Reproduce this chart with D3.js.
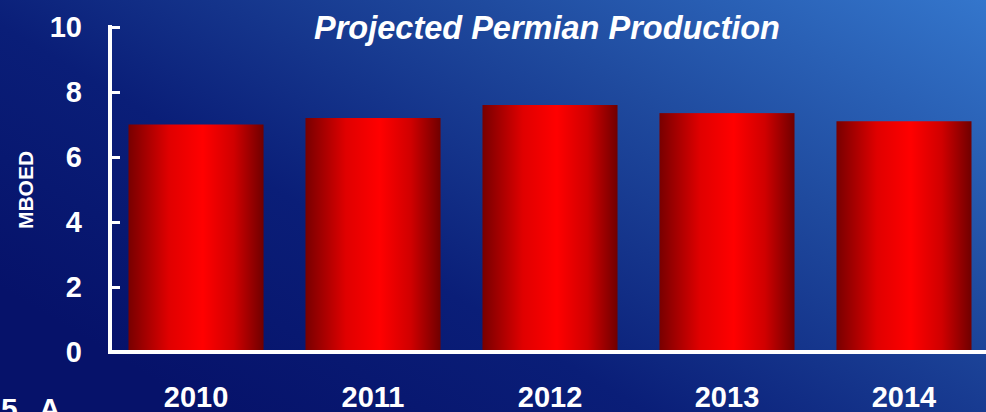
<!DOCTYPE html>
<html><head><meta charset="utf-8">
<script src="https://cdn.jsdelivr.net/npm/d3@7"></script>
<style>html,body{margin:0;padding:0;overflow:hidden;background:#0a1a6e}</style>
</head><body>
<svg id="chart" width="986" height="412"></svg>
<script>
const categories = ["2010", "2011", "2012", "2013", "2014"];
const values = [7.0, 7.2, 7.6, 7.35, 7.1];
const yTicks = [0, 2, 4, 6, 8, 10];
const title = "Projected Permian Production";
const yLabel = "MBOED";
const cornerText = "5 A";

const svg = d3.select("#chart");
const W = 986, H = 412;
const defs = svg.append("defs");

const bg = defs.append("linearGradient").attr("id","bg")
  .attr("x1","0").attr("y1","0.7").attr("x2","1").attr("y2","0");
bg.append("stop").attr("offset","0").attr("stop-color","#06126a");
bg.append("stop").attr("offset","0.3").attr("stop-color","#0a1e78");
bg.append("stop").attr("offset","0.65").attr("stop-color","#1f4a9e");
bg.append("stop").attr("offset","1").attr("stop-color","#3476cc");

const bar = defs.append("linearGradient").attr("id","bar")
  .attr("x1","0").attr("y1","0").attr("x2","1").attr("y2","0");
bar.append("stop").attr("offset","0").attr("stop-color","#780000");
bar.append("stop").attr("offset","0.3").attr("stop-color","#e00000");
bar.append("stop").attr("offset","0.55").attr("stop-color","#ff0000");
bar.append("stop").attr("offset","0.78").attr("stop-color","#d00000");
bar.append("stop").attr("offset","1").attr("stop-color","#700000");

svg.append("rect").attr("width",W).attr("height",H).attr("fill","url(#bg)");

const x = d3.scaleBand().domain(categories).range([110, 990])
  .paddingInner(0.237).paddingOuter(0.1045);
const y = d3.scaleLinear().domain([0, 10]).range([352, 27]);

svg.append("g").selectAll("rect").data(categories).join("rect")
  .attr("x", d => x(d))
  .attr("y", (d,i) => y(values[i]))
  .attr("width", x.bandwidth())
  .attr("height", (d,i) => y(0) - y(values[i]))
  .attr("fill","url(#bar)");

const font = "Arial, 'Liberation Sans', sans-serif";

// y axis
const yAxis = d3.axisLeft(y).tickValues(yTicks).tickSize(-10).tickPadding(28).tickSizeOuter(0);
const gy = svg.append("g").attr("transform","translate(110,0)").call(yAxis);
gy.select(".domain").attr("stroke","#fff").attr("stroke-width",4).attr("d","M0,25V354");
gy.selectAll(".tick line").attr("stroke","#fff").attr("stroke-width",3).attr("x1",0);
gy.selectAll(".tick text").attr("fill","#fff").attr("font-family",font)
  .attr("font-weight","bold").attr("font-size","29px");

// x axis
const xAxis = d3.axisBottom(x).tickSize(0).tickPadding(34).tickSizeOuter(0);
const gx = svg.append("g").attr("transform","translate(0,352)").call(xAxis);
gx.select(".domain").attr("stroke","#fff").attr("stroke-width",4).attr("d","M108,0H986");
gx.selectAll(".tick text").attr("fill","#fff").attr("font-family",font)
  .attr("font-weight","bold").attr("font-size","29px").attr("dy","0.71em");

svg.append("text").attr("x",547).attr("y",39).attr("text-anchor","middle")
  .attr("fill","#fff").attr("font-family",font).attr("font-weight","bold")
  .attr("font-style","italic").attr("font-size","32.5px").text(title);

svg.append("text").attr("transform","translate(33,190) rotate(-90)")
  .attr("text-anchor","middle").attr("fill","#fff").attr("font-family",font)
  .attr("font-weight","bold").attr("font-size","21px").text(yLabel);

svg.append("text").attr("x",1).attr("y",419)
  .attr("fill","#fff").attr("font-family",font).attr("font-weight","bold")
  .attr("font-size","30px").attr("word-spacing","14px").text(cornerText);
</script>
</body></html>
